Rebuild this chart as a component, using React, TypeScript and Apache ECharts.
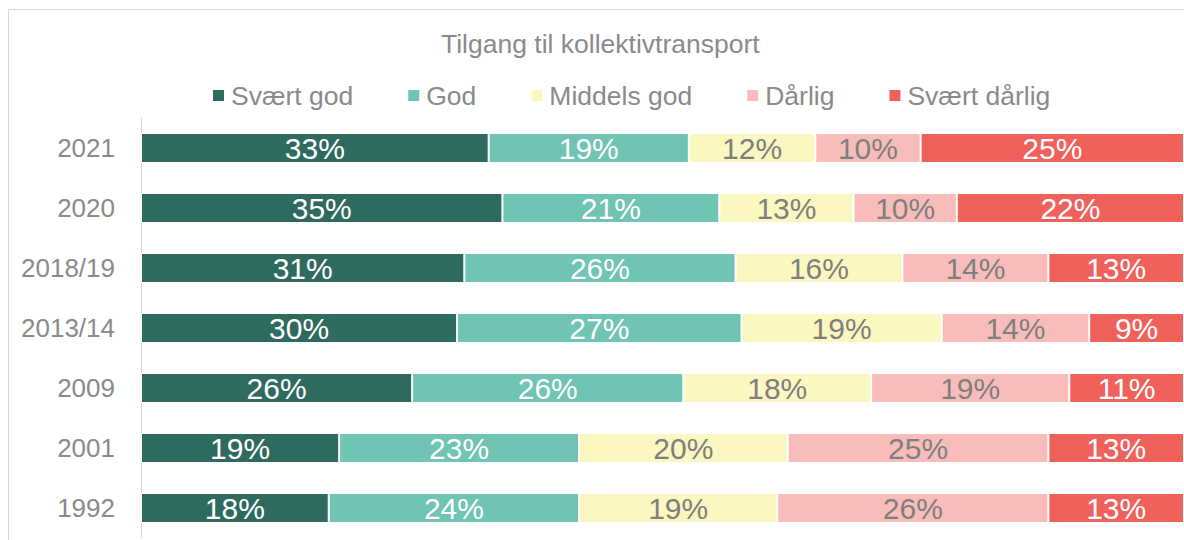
import React, { useEffect, useRef } from "react";
import * as echarts from "echarts";

const categories = ["2021", "2020", "2018/19", "2013/14", "2009", "2001", "1992"];
const svaertGod = [33, 35, 31, 30, 26, 19, 18];
const god = [19, 21, 26, 27, 26, 23, 24];
const middelsGod = [12, 13, 16, 19, 18, 20, 19];
const daarlig = [10, 10, 14, 14, 19, 25, 26];
const svaertDaarlig = [25, 22, 13, 9, 11, 13, 13];

const seriesNames = ["Svært god", "God", "Middels god", "Dårlig", "Svært dårlig"];
const seriesData = [svaertGod, god, middelsGod, daarlig, svaertDaarlig];
const colors = ["#2E6B5E", "#70C4B3", "#FBF7C0", "#F8BDBA", "#F0615C"];
const labelColors = ["#FFFFFF", "#FFFFFF", "#7F7F7F", "#7F7F7F", "#FFFFFF"];

const FONT = "'Liberation Sans', Arial, sans-serif";
const GREY = "#8A8A8A";

export default function App() {
  const ref = useRef<HTMLDivElement>(null);
  useEffect(() => {
    if (!ref.current) return;
    const chart = echarts.init(ref.current, undefined, { renderer: "svg" });
    const totals = categories.map((_, i) =>
      seriesData.reduce((s, arr) => s + arr[i], 0)
    );
    chart.setOption({
      animation: false,
      textStyle: { fontFamily: FONT },
      graphic: [
        {
          type: "rect",
          shape: { x: 8.5, y: 9.5, width: 1300, height: 700 },
          style: { fill: "none", stroke: "#D9D9D9", lineWidth: 1 },
          silent: true,
          z: -10,
        },
      ],
      title: {
        text: "Tilgang til kollektivtransport",
        left: 441,
        top: 30,
        padding: 0,
        textStyle: { fontFamily: FONT, fontSize: 26.5, fontWeight: "normal", color: GREY },
      },
      legend: {
        data: seriesNames,
        left: 211,
        top: 82,
        padding: 0,
        itemWidth: 13,
        itemHeight: 13,
        itemGap: 53,
        icon: "rect",
        textStyle: { fontFamily: FONT, fontSize: 26.5, color: GREY, padding: [0, 0, 0, 1] },
      },
      grid: { left: 141, right: 0, top: 118, bottom: 2, containLabel: false },
      xAxis: {
        type: "value",
        min: 0,
        max: 100,
        show: false,
        splitLine: { show: false },
      },
      yAxis: {
        type: "category",
        data: categories,
        inverse: true,
        axisTick: { show: false },
        axisLine: { show: true, lineStyle: { color: "#D9D9D9", width: 1 } },
        axisLabel: { fontFamily: FONT, fontSize: 26, color: GREY, margin: 26 },
      },
      series: seriesNames.map((name, si) => ({
        name,
        type: "bar",
        stack: "total",
        barWidth: 30,
        itemStyle: { color: colors[si], borderColor: "#FFFFFF", borderWidth: 1 },
        label: {
          show: true,
          position: "inside",
          fontFamily: FONT,
          fontSize: 30,
          color: labelColors[si],
          formatter: (p: any) => `${seriesData[si][p.dataIndex]}%`,
        },
        data: seriesData[si].map((v, i) => (v / totals[i]) * 100),
      })),
    });
    return () => chart.dispose();
  }, []);
  return (
    <div
      ref={ref}
      style={{ position: "absolute", left: 0, top: 0, width: 1184, height: 540 }}
    />
  );
}
